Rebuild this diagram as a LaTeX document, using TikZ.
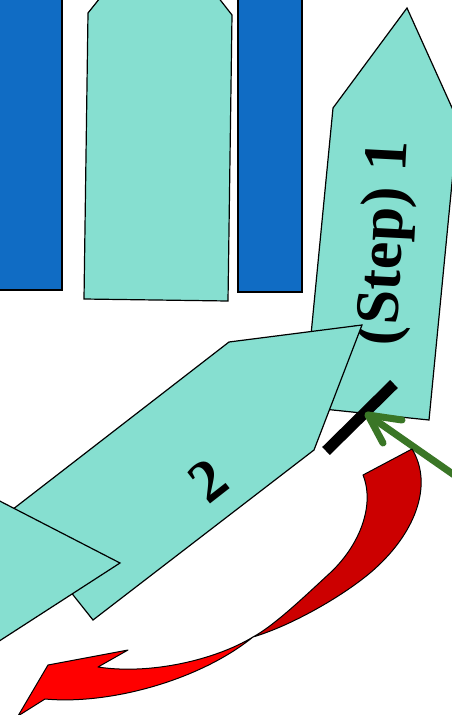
\documentclass[tikz,border=0pt]{standalone}
\usepackage{fontspec}
\setmainfont{Liberation Serif}
\definecolor{blueC}{RGB}{16,108,196}
\definecolor{tealC}{RGB}{134,223,208}
\definecolor{darkredC}{RGB}{204,0,0}
\definecolor{brightredC}{RGB}{255,0,0}
\definecolor{greenC}{RGB}{58,118,38}
\tikzset{
  bluebar/.style={fill=blueC, draw=black, line width=1.3pt},
  tealshape/.style={fill=tealC, draw=black, line width=1.2pt, line join=miter},
  bigtext/.style={font=\bfseries\fontsize{62}{62}\selectfont, inner sep=0pt},
  midtext/.style={font=\bfseries\fontsize{60}{60}\selectfont, inner sep=0pt},
  redpart/.style={draw=black, line width=1pt, line join=round},
  greenline/.style={draw=greenC, line width=7pt, line cap=round, line join=round},
  blackbar/.style={draw=black, line width=11pt}
}
\begin{document}
\begin{tikzpicture}[x=1pt,y=-1pt]
\useasboundingbox (0,0) rectangle (452,715);
\clip (0,0) rectangle (452,715);
\fill[white] (0,0) rectangle (452,715);
% blue bars
\draw[bluebar] (-5,-5) rectangle (62,290);
\draw[bluebar] (238,-5) rectangle (302,292);
% middle teal pentagon
\draw[tealshape] (160,-77) -- (232,15) -- (228,301) -- (84,299) -- (88,13) -- cycle;
% step 1 shape
\draw[tealshape] (407,8) -- (458,121) -- (429,420) -- (304,407) -- (333,108) -- cycle;
\node[bigtext, rotate=87] (s1) at (387,243) {(Step) 1};
% step 2 shape
\draw[tealshape] (362,325) -- (314,450) -- (93,620) -- (8,513) -- (229,342) -- cycle;
\node[midtext, rotate=38] (s2) at (208,481) {2};
% left triangle
\draw[tealshape] (-10,496) -- (120,563) -- (-10,647) -- cycle;
% black bar
\coordinate (b1) at (326,451);
\coordinate (b2) at (394,384);
\draw[blackbar] (b1) -- (b2);
% green arrow
\coordinate (gtip) at (368,415);
\coordinate (gtail) at (470,486);
\coordinate (gbA) at (402,420);
\coordinate (gbB) at (383,443);
\draw[greenline] (gtail) -- (gtip);
\draw[greenline] (gbA) -- (gtip) -- (gbB);
% red curved arrow
\coordinate (ra) at (363,475);
\coordinate (rb) at (412,449);
\coordinate (rm) at (253,637);
\draw[redpart, fill=darkredC] (ra) -- (rb)
   .. controls (434,485) and (415,535) .. (370,573)
   .. controls (340,598) and (290,626) .. (rm)
   .. controls (275,625) and (305,596) .. (330,573)
   .. controls (360,545) and (375,505) .. (ra) -- cycle;
\draw[redpart, fill=brightredC] (rm) .. controls (215,660) and (150,675) .. (98,667)
   -- (128,650) -- (48,665) -- (18,716) -- (45,699)
   .. controls (110,705) and (200,680) .. (rm) -- cycle;
\end{tikzpicture}
\end{document}
